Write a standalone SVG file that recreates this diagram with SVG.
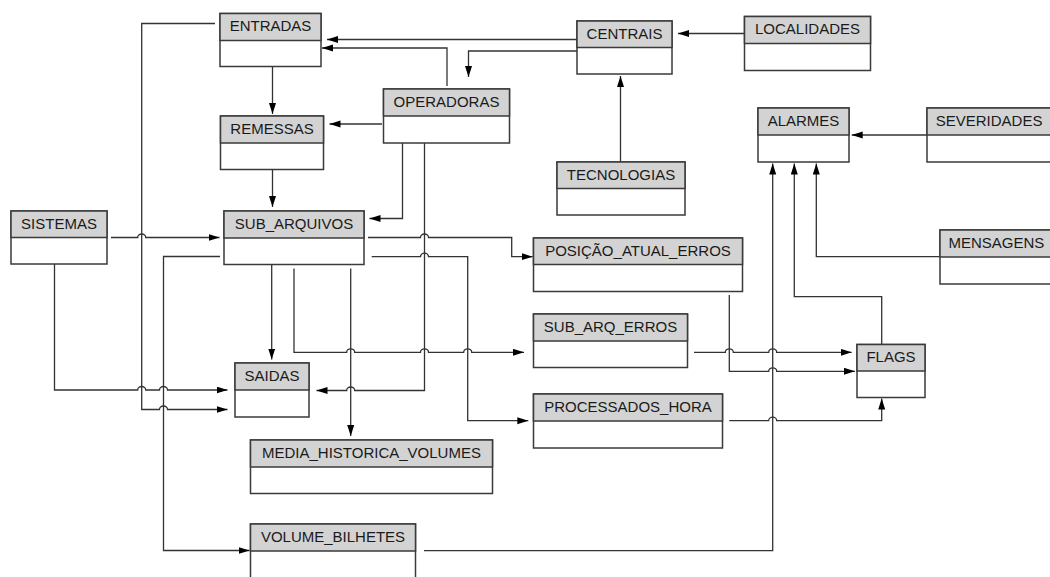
<svg xmlns="http://www.w3.org/2000/svg" width="1050" height="577" viewBox="0 0 1050 577">
  <style>
    .body { fill: #ffffff; stroke: #3a3a3a; stroke-width: 1.5; }
    .hdr { fill: #d3d3d3; stroke: #3a3a3a; stroke-width: 1.5; }
    .lbl { font-family: "Liberation Sans", Arial, sans-serif; font-size: 15px; fill: #1a1a1a; text-anchor: middle; }
    .lbl.left { text-anchor: start; }
    .wire { fill: none; stroke: #333333; stroke-width: 1.3; }
    .wire.arr { marker-end: url(#head); }
  </style>
  <defs>
    <marker id="head" markerUnits="userSpaceOnUse" markerWidth="12" markerHeight="8" refX="11" refY="3.5" orient="auto">
      <path d="M0,0 L11,3.5 L0,7 z" fill="#000000"/>
    </marker>
  </defs>
  <rect width="1050" height="577" fill="#ffffff"/>

  <!-- relationships (hops drawn as small arcs where lines cross) -->
  <g id="connectors">
    <path class="wire arr" d="M577,39.5 H327"/>
    <path class="wire arr" d="M447,86 V48 H322"/>
    <path class="wire arr" d="M577,51 H468.5 V77"/>
    <path class="wire arr" d="M744,33.5 H678"/>
    <path class="wire arr" d="M620.5,162 V76"/>
    <path class="wire arr" d="M272.5,66.5 V114"/>
    <path class="wire arr" d="M382,124 H329.5"/>
    <path class="wire arr" d="M272.5,169.5 V207"/>
    <path class="wire arr" d="M402.5,143 V218.5 H369.5"/>
    <path class="wire arr" d="M424.5,143 V390.5 H354.7 a4,3.5 0 0 0 -8,0 H316.5"/>
    <path class="wire arr" d="M111,237.5 H137.7 a4,3.5 0 0 1 8,0 H219.5"/>
    <path class="wire arr" d="M215,23.5 H141.7 V409.5 H159.5 a4,3.5 0 0 1 8,0 H227.5"/>
    <path class="wire arr" d="M54.5,264 V390 H137.7 a4,3.5 0 0 1 8,0 H159.5 a4,3.5 0 0 1 8,0 H227.5"/>
    <path class="wire arr" d="M220,256.5 H163.5 V550.5 H249.5"/>
    <path class="wire arr" d="M271.7,264.5 V359.5"/>
    <path class="wire arr" d="M294,268.5 V352.3 H346.7 a4,3.5 0 0 1 8,0 H420.5 a4,3.5 0 0 1 8,0 H463.7 a4,3.5 0 0 1 8,0 H524"/>
    <path class="wire arr" d="M350.7,268.5 V436"/>
    <path class="wire arr" d="M368,237.5 H420.5 a4,3.5 0 0 1 8,0 H511.7 V256.7 H532.7"/>
    <path class="wire arr" d="M371.7,256.7 H420.5 a4,3.5 0 0 1 8,0 H467.7 V420.7 H528.3"/>
    <path class="wire arr" d="M729.3,295 V371.3 H768.7 a4,3.5 0 0 1 8,0 H855"/>
    <path class="wire arr" d="M694,352.3 H725.3 a4,3.5 0 0 1 8,0 H768.7 a4,3.5 0 0 1 8,0 H851.7"/>
    <path class="wire arr" d="M729.3,420.7 H768.7 a4,3.5 0 0 1 8,0 H881.7 V398.5"/>
    <path class="wire arr" d="M881.7,344.3 V296.7 H794.3 V163.5"/>
    <path class="wire arr" d="M939.7,256.7 H816.3 V163.5"/>
    <path class="wire arr" d="M424,550.7 H772.7 V163.5"/>
    <path class="wire arr" d="M926.7,135 H851.7"/>
  </g>

  <!-- tables: header band with name, empty body below -->
  <g id="entradas">
    <rect class="body" x="220" y="13.5" width="101" height="53"/>
    <rect class="hdr" x="220" y="13.5" width="101" height="27"/>
    <text class="lbl" x="270.5" y="31">ENTRADAS</text>
  </g>
  <g id="remessas">
    <rect class="body" x="220.5" y="116" width="103" height="53.5"/>
    <rect class="hdr" x="220.5" y="116" width="103" height="27"/>
    <text class="lbl" x="272" y="133.5">REMESSAS</text>
  </g>
  <g id="centrais">
    <rect class="body" x="577" y="21" width="95" height="53"/>
    <rect class="hdr" x="577" y="21" width="95" height="26.5"/>
    <text class="lbl" x="624.5" y="38.5">CENTRAIS</text>
  </g>
  <g id="operadoras">
    <rect class="body" x="383.5" y="89" width="126" height="54"/>
    <rect class="hdr" x="383.5" y="89" width="126" height="27"/>
    <text class="lbl" x="446.5" y="106.5">OPERADORAS</text>
  </g>
  <g id="tecnologias">
    <rect class="body" x="557" y="162" width="128" height="53"/>
    <rect class="hdr" x="557" y="162" width="128" height="26.5"/>
    <text class="lbl" x="621" y="179.5">TECNOLOGIAS</text>
  </g>
  <g id="localidades">
    <rect class="body" x="744.5" y="16.5" width="126" height="54"/>
    <rect class="hdr" x="744.5" y="16.5" width="126" height="27"/>
    <text class="lbl" x="807.5" y="34">LOCALIDADES</text>
  </g>
  <g id="alarmes">
    <rect class="body" x="758" y="108" width="91" height="54"/>
    <rect class="hdr" x="758" y="108" width="91" height="27"/>
    <text class="lbl" x="803.5" y="125.5">ALARMES</text>
  </g>
  <g id="severidades">
    <rect class="body" x="927" y="108" width="130" height="54"/>
    <rect class="hdr" x="927" y="108" width="130" height="27"/>
    <text class="lbl left" x="935.7" y="125.5">SEVERIDADES</text>
  </g>
  <g id="sistemas">
    <rect class="body" x="11" y="211" width="96" height="53"/>
    <rect class="hdr" x="11" y="211" width="96" height="26.5"/>
    <text class="lbl" x="59" y="228.5">SISTEMAS</text>
  </g>
  <g id="sub_arquivos">
    <rect class="body" x="224" y="211" width="140" height="53.5"/>
    <rect class="hdr" x="224" y="211" width="140" height="27"/>
    <text class="lbl" x="294" y="228.5">SUB_ARQUIVOS</text>
  </g>
  <g id="mensagens">
    <rect class="body" x="940" y="230" width="120" height="54"/>
    <rect class="hdr" x="940" y="230" width="120" height="27"/>
    <text class="lbl left" x="948.5" y="247.5">MENSAGENS</text>
  </g>
  <g id="posicao_atual_erros">
    <rect class="body" x="533.5" y="238" width="209" height="53.5"/>
    <rect class="hdr" x="533.5" y="238" width="209" height="26.5"/>
    <text class="lbl" x="638" y="255.5">POSIÇÃO_ATUAL_ERROS</text>
  </g>
  <g id="sub_arq_erros">
    <rect class="body" x="533.5" y="314" width="154" height="53.5"/>
    <rect class="hdr" x="533.5" y="314" width="154" height="27"/>
    <text class="lbl" x="610.5" y="331.5">SUB_ARQ_ERROS</text>
  </g>
  <g id="flags">
    <rect class="body" x="857" y="344.5" width="68" height="53"/>
    <rect class="hdr" x="857" y="344.5" width="68" height="26.5"/>
    <text class="lbl" x="891" y="362">FLAGS</text>
  </g>
  <g id="saidas">
    <rect class="body" x="235" y="363" width="74" height="54"/>
    <rect class="hdr" x="235" y="363" width="74" height="27"/>
    <text class="lbl" x="272" y="380.5">SAIDAS</text>
  </g>
  <g id="processados_hora">
    <rect class="body" x="533.5" y="394" width="189" height="54"/>
    <rect class="hdr" x="533.5" y="394" width="189" height="27"/>
    <text class="lbl" x="628" y="411.5">PROCESSADOS_HORA</text>
  </g>
  <g id="media_historica_volumes">
    <rect class="body" x="250.5" y="440" width="242" height="53.5"/>
    <rect class="hdr" x="250.5" y="440" width="242" height="27"/>
    <text class="lbl" x="371.5" y="457.5">MEDIA_HISTORICA_VOLUMES</text>
  </g>
  <g id="volume_bilhetes">
    <rect class="body" x="250.5" y="524" width="165" height="60"/>
    <rect class="hdr" x="250.5" y="524" width="165" height="27"/>
    <text class="lbl" x="333" y="541.5">VOLUME_BILHETES</text>
  </g>
</svg>
